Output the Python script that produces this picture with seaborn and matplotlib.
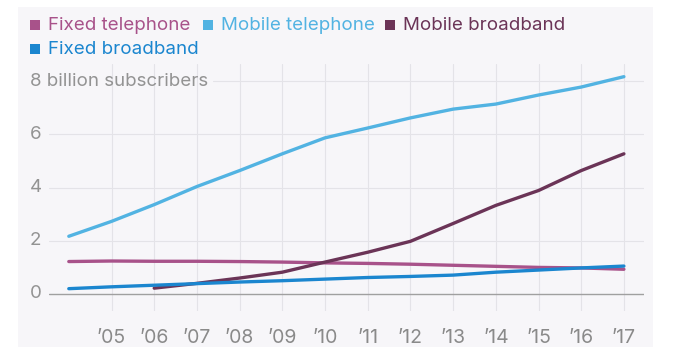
import pandas as pd
import matplotlib.pyplot as plt
import matplotlib.transforms as mtransforms
from matplotlib.patches import Rectangle
import seaborn as sns

# Data (billion subscribers)
years = list(range(2004, 2018))
fixed_telephone = [1.22, 1.24, 1.23, 1.23, 1.22, 1.20, 1.17, 1.15, 1.12, 1.08, 1.04, 1.00, 0.98, 0.93]
mobile_telephone = [2.17, 2.73, 3.36, 4.04, 4.64, 5.27, 5.87, 6.24, 6.62, 6.95, 7.14, 7.48, 7.78, 8.17]
mobile_broadband = [None, None, 0.22, 0.40, 0.60, 0.82, 1.20, 1.57, 1.98, 2.65, 3.33, 3.89, 4.64, 5.27]
fixed_broadband = [0.20, 0.27, 0.33, 0.39, 0.45, 0.50, 0.56, 0.62, 0.66, 0.71, 0.82, 0.90, 0.98, 1.05]

series_names = ["Fixed telephone", "Mobile telephone", "Mobile broadband", "Fixed broadband"]
series_colors = ["#a8528a", "#52b3e2", "#6b3457", "#1b86cf"]
xtick_years = list(range(2005, 2018))
xtick_labels = ["’05", "’06", "’07", "’08", "’09", "’10", "’11", "’12", "’13", "’14", "’15", "’16", "’17"]
ytick_values = [0, 2, 4, 6, 8]
ytick_labels = ["0", "2", "4", "6", "8 billion subscribers"]

rows = []
for name, vals in zip(series_names,
                      [fixed_telephone, mobile_telephone, mobile_broadband, fixed_broadband]):
    for y, v in zip(years, vals):
        if v is not None:
            rows.append({"year": y, "value": v, "series": name})
df = pd.DataFrame(rows)

sns.set_style("white")
plt.rcParams["font.family"] = ["Inter", "DejaVu Sans"]

W, H = 690, 354
fig = plt.figure(figsize=(W / 100, H / 100), dpi=100, facecolor="white")
panel_bg = "#f7f6f9"
fig.patches.append(Rectangle((18 / W, (H - 347) / H), (653 - 18) / W, (347 - 7) / H,
                             transform=fig.transFigure, facecolor=panel_bg,
                             edgecolor="none", zorder=-5))

# pixel geometry: x 2004 -> 68.8, 42.7 px/yr ; y 0 -> 294, 26.6 px/unit
px_yr, px_u = 42.7, 26.6
ax_l, ax_r, ax_t, ax_b = 49, 644, 64, 311
ax = fig.add_axes([ax_l / W, (H - ax_b) / H, (ax_r - ax_l) / W, (ax_b - ax_t) / H])
ax.set_facecolor("none")
for s in ax.spines.values():
    s.set_visible(False)

grid_c = "#e4e3e8"
for yr in xtick_years:
    ax.axvline(yr, color=grid_c, lw=0.8, zorder=1)
for v in ytick_values:
    if v == 0:
        ax.axhline(v, color="#a0a0a0", lw=1.0, zorder=2)
    elif v == 8:
        ax.axhline(v, xmin=(213 - ax_l) / (ax_r - ax_l), color=grid_c, lw=0.8, zorder=1)
    else:
        ax.axhline(v, color=grid_c, lw=0.8, zorder=1)

sns.lineplot(data=df, x="year", y="value", hue="series", hue_order=series_names,
             palette=series_colors, linewidth=2.4, legend=False, ax=ax, zorder=3)

ax.set_xlim(2004 - (68.8 - ax_l) / px_yr, 2004 + (ax_r - 68.8) / px_yr)
ax.set_ylim(-(ax_b - 294) / px_u, (294 - ax_t) / px_u)
ax.set_xticks(xtick_years)
ax.set_xticklabels(xtick_labels)
ax.set_yticks([])
ax.tick_params(axis="x", length=0, pad=13, labelsize=14, labelcolor="#8a8a8a")
ax.set_xlabel("")
ax.set_ylabel("")

trans = mtransforms.blended_transform_factory(fig.transFigure, ax.transData)
for v, lab in zip(ytick_values, ytick_labels):
    ax.text(30 / W, v, lab, transform=trans, ha="left", va="center",
            fontsize=13.5, color="#939393")

# legend: coloured squares with coloured text
legend_pos = [(30, 25), (203, 25), (385, 25), (30, 49)]
for name, col, (px, py) in zip(series_names, series_colors, legend_pos):
    fig.patches.append(Rectangle((px / W, 1 - (py + 5) / H), 10 / W, 10 / H,
                                 transform=fig.transFigure, facecolor=col,
                                 edgecolor="none"))
    fig.text((px + 18) / W, 1 - py / H, name, color=col, fontsize=13.5,
             ha="left", va="center")

fig.savefig("out.png", dpi=100, facecolor="white")
